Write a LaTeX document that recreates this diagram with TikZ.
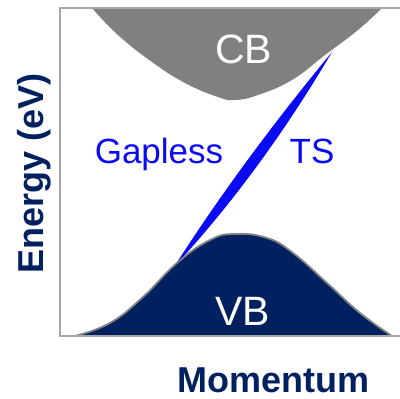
\documentclass[tikz,border=0pt]{standalone}
\usepackage{fontspec}
\setmainfont{Liberation Sans}
\definecolor{navy}{RGB}{0,32,96}
\definecolor{cbgray}{RGB}{128,128,128}
\definecolor{framegray}{RGB}{166,166,166}
\definecolor{tsblue}{RGB}{10,10,245}
\tikzset{
  bandlabel/.style={text=white, inner sep=0pt, anchor=base, font=\fontsize{41}{45}\selectfont},
  tslabel/.style={text=tsblue, inner sep=0pt, anchor=base, font=\fontsize{35}{40}\selectfont},
  axislabel/.style={text=navy, inner sep=0pt, anchor=base, font=\fontsize{36}{40}\selectfont\bfseries},
  framestyle/.style={draw=framegray, line width=2pt},
}
\begin{document}
\begin{tikzpicture}[x=1pt,y=-1pt]
\useasboundingbox (0,0) rectangle (400,399);
% topological surface state band
\coordinate (tsA) at (174,267);
\coordinate (tsB) at (332,52);
\fill[tsblue] (tsA) .. controls (222,192) and (275,121) .. (tsB)
   .. controls (286,130) and (234,202) .. cycle;
% valence band
\fill[navy, draw=cbgray, line width=1.8pt] plot[smooth, tension=0.75] coordinates
  {(75,336) (110,323) (143,297) (177,263) (210,240) (235,234) (267,238) (293,253) (327,283) (360,313) (392,336)} -- cycle;
% conduction band
\fill[cbgray] plot[smooth, tension=0.75] coordinates
  {(92,8) (118,35) (152,62) (185,83) (218,97) (235,100) (258,95) (292,80) (325,55) (358,30) (382,8)} -- cycle;
% frame
\coordinate (tl) at (60,8);
\coordinate (tr) at (400,8);
\coordinate (bl) at (60,336);
\coordinate (br) at (400,336);
\draw[framestyle] (tr) -- (tl) -- (bl) -- (br);
% labels
\node[bandlabel] (cb) at (243.5,63) {CB};
\node[bandlabel] (vb) at (242.5,325) {VB};
\node[tslabel] (gap) at (159,163) {Gapless};
\node[tslabel] (ts) at (312,163) {TS};
\node[axislabel] (mom) at (273.5,392) {Momentum};
\node[axislabel, rotate=90] (en) at (43,173) {Energy (eV)};
\end{tikzpicture}
\end{document}
